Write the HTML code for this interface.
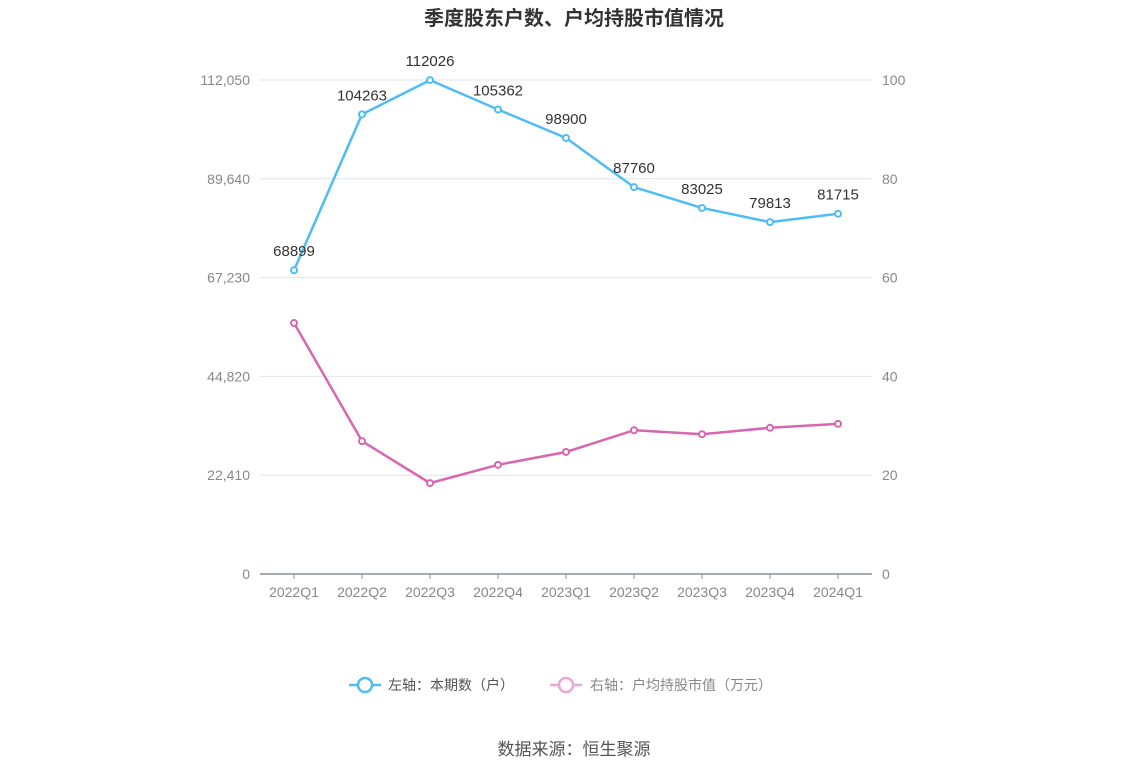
<!DOCTYPE html>
<html><head><meta charset="utf-8">
<style>
body{margin:0;background:#fff;font-family:"Liberation Sans","Noto Sans CJK SC",sans-serif;}
svg text{font-family:"Liberation Sans","Noto Sans CJK SC",sans-serif;}
</style></head>
<body>
<svg id="chart" width="1148" height="776" xmlns="http://www.w3.org/2000/svg">
<text x="574" y="25" text-anchor="middle" font-size="20" font-weight="bold" fill="#333">季度股东户数、户均持股市值情况</text>
<g id="grid"></g>
<g id="axes"></g>
<g id="series"></g>
<g>
<g>
<line x1="349" y1="685" x2="381" y2="685" stroke="#4fbdf5" stroke-width="2.5"/>
<circle cx="365" cy="685" r="7" fill="#fff" stroke="#4fbdf5" stroke-width="2.5"/>
<text x="388" y="690" font-size="14" fill="#555">左轴：本期数（户）</text></g>
<g>
<line x1="550" y1="685" x2="582" y2="685" stroke="#e9a7d5" stroke-width="2.5"/>
<circle cx="566" cy="685" r="7" fill="#fff" stroke="#e9a7d5" stroke-width="2.5"/>
<text x="590" y="690" font-size="14" fill="#888">右轴：户均持股市值（万元）</text></g>
</g>
<text x="574" y="755" text-anchor="middle" font-size="17" fill="#555">数据来源：恒生聚源</text>
</svg>
<script>
const categories=["2022Q1","2022Q2","2022Q3","2022Q4","2023Q1","2023Q2","2023Q3","2023Q4","2024Q1"];
const holders=[68899,104263,112026,105362,98900,87760,83025,79813,81715];
const avgValue=[50.8,26.9,18.4,22.1,24.7,29.1,28.3,29.6,30.4];
const leftTicks=[0,22410,44820,67230,89640,112050];
const rightTicks=[0,20,40,60,80,100];
const NS="http://www.w3.org/2000/svg";
const x0=260,x1=872,yB=574,yT=80;
const band=(x1-x0)/categories.length;
const xs=i=>x0+band*(i+0.5);
const yl=v=>yB-(v/112050)*(yB-yT);
const yr=v=>yB-(v/100)*(yB-yT);
function mk(tag,attrs,parent,txt){const e=document.createElementNS(NS,tag);for(const k in attrs)e.setAttribute(k,attrs[k]);if(txt!==undefined)e.textContent=txt;parent.appendChild(e);return e;}
const grid=document.getElementById('grid'),axes=document.getElementById('axes'),ser=document.getElementById('series');
leftTicks.forEach((t,i)=>{
  const y=yl(t);
  if(t>0){const g=mk('line',{x1:x0,x2:x1,y1:y,y2:y,stroke:'#e0e4ee','stroke-width':1},grid);
  
  }
  const l=mk('text',{x:250,y:y+5,'text-anchor':'end','font-size':14,fill:'#888'},axes,t.toLocaleString('en-US'));
  
  
});
rightTicks.forEach(t=>{
  const l=mk('text',{x:882,y:yr(t)+5,'font-size':14,fill:'#888'},axes,String(t));
  
  
});
const ax=mk('line',{x1:x0,x2:x1,y1:yB,y2:yB,stroke:'#8a8f99','stroke-width':1.5},axes);


categories.forEach((c,i)=>{
  const tk=mk('line',{x1:xs(i),x2:xs(i),y1:yB,y2:yB+5,stroke:'#8a8f99'},axes);
  
  
  const l=mk('text',{x:xs(i),y:597,'text-anchor':'middle','font-size':14,fill:'#888'},axes,c);
  
  
});
function line(vals,yf,color,name,labels){
  const p=mk('polyline',{points:vals.map((v,i)=>xs(i)+','+yf(v)).join(' '),fill:'none',stroke:color,'stroke-width':2.5},ser);
  
  
  vals.forEach((v,i)=>{
    const c=mk('circle',{cx:xs(i),cy:yf(v),r:3,fill:'#fff',stroke:color,'stroke-width':2},ser);
    
    
    if(labels){const t=mk('text',{x:xs(i),y:yf(v)-14,'text-anchor':'middle','font-size':15,fill:'#333'},ser,String(v));
    
    }
  });
}
line(avgValue,yr,'#d867b2','avg-value',false);
line(holders,yl,'#4fbdf5','holders',true);
</script>
</body></html>
